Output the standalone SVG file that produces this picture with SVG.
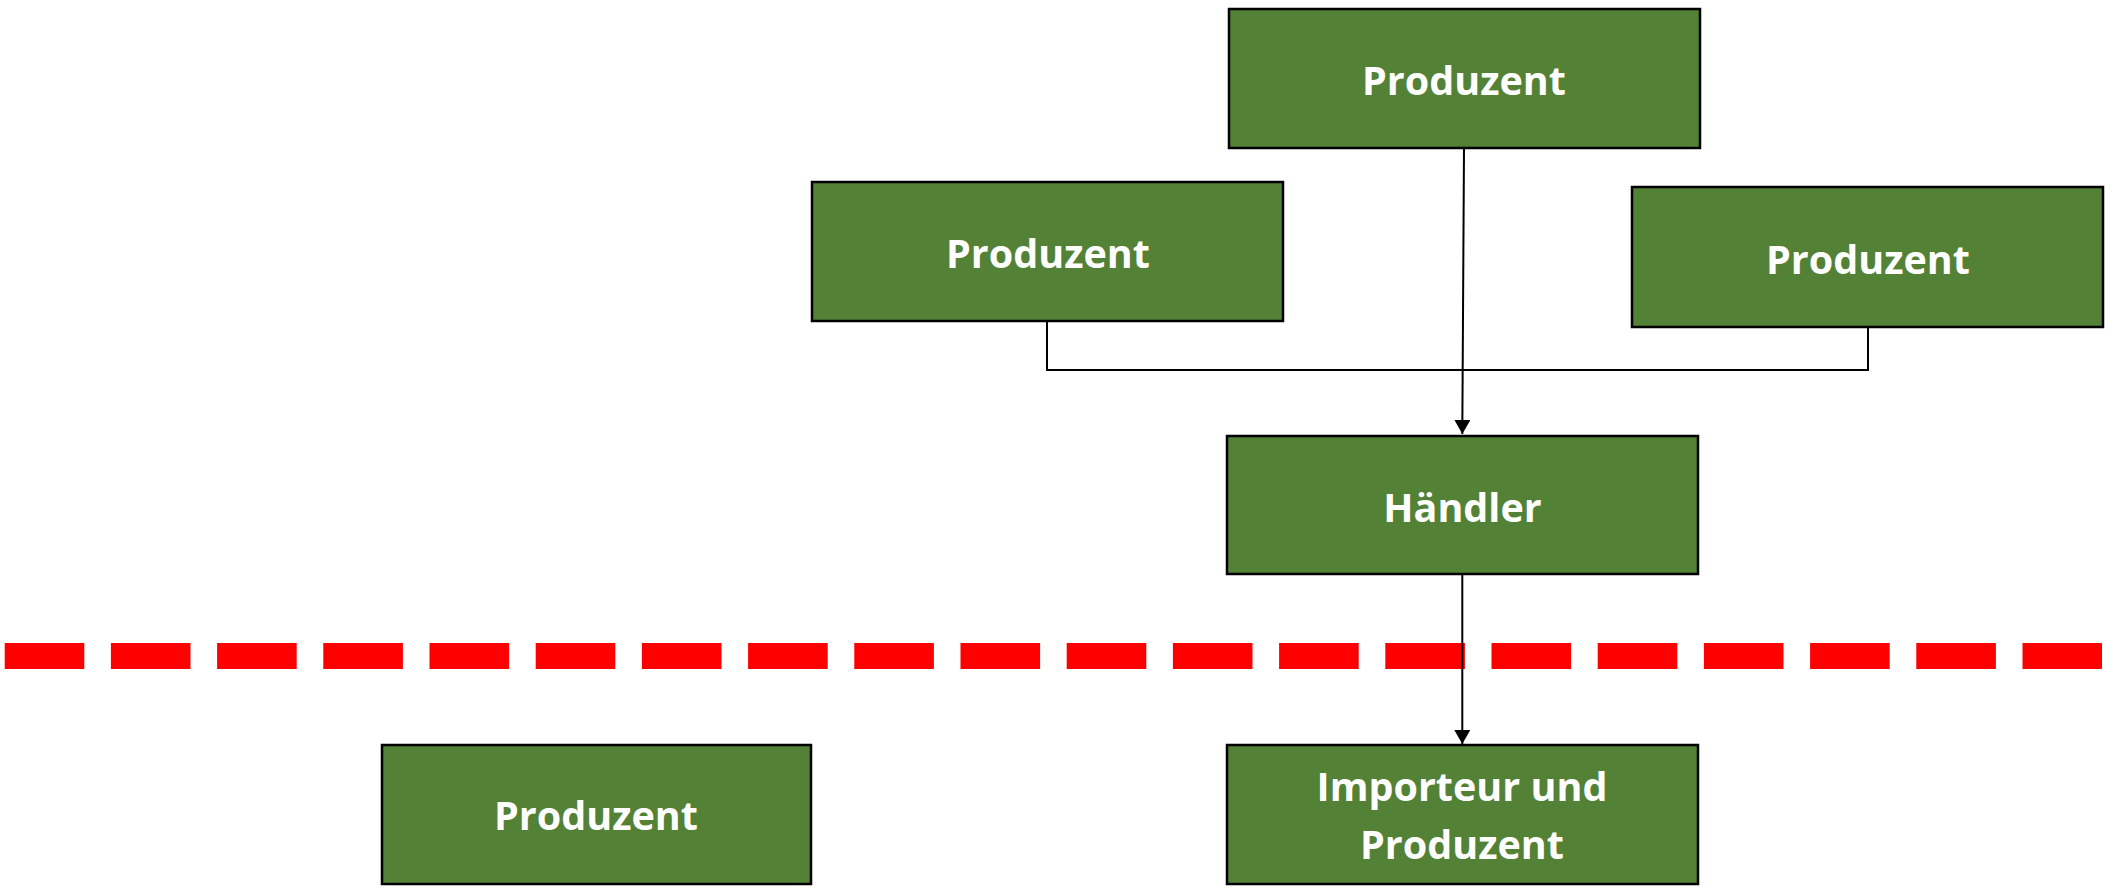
<svg xmlns="http://www.w3.org/2000/svg" width="2126" height="894" viewBox="0 0 2126 894">
<style>
.box{fill:#538135;stroke:#000;stroke-width:2.5}
.lbl{font-family:"Open Sans","Noto Sans",sans-serif;font-weight:bold;font-size:39.5px;fill:#fff;text-anchor:middle}
.con{fill:none;stroke:#000;stroke-width:2}
</style>
<defs>
<marker id="arr" markerWidth="16" markerHeight="16" refX="14" refY="8" orient="auto" markerUnits="userSpaceOnUse">
<path d="M0,0 L14,8 L0,16 Z" fill="#000"/>
</marker>
</defs>
<rect width="2126" height="894" fill="#fff"/>
<line x1="4.7" y1="656" x2="2102" y2="656" stroke="#ff0000" stroke-width="26" stroke-dasharray="79.6 26.6"/>
<g id="connectors">
<polyline class="con" points="1047,321 1047,370 1868,370 1868,327"/>
<line class="con" x1="1464" y1="148" x2="1462.3" y2="434" marker-end="url(#arr)"/>
<line class="con" x1="1462.3" y1="574" x2="1462.3" y2="744" marker-end="url(#arr)"/>
</g>
<g id="p-top">
<rect class="box" x="1229" y="9" width="471" height="139"/>
<text class="lbl" x="1464" y="95">Produzent</text>
</g>
<g id="p-left">
<rect class="box" x="812" y="182" width="471" height="139"/>
<text class="lbl" x="1048" y="268">Produzent</text>
</g>
<g id="p-right">
<rect class="box" x="1632" y="187" width="471" height="140"/>
<text class="lbl" x="1868" y="274">Produzent</text>
</g>
<g id="haendler">
<rect class="box" x="1227" y="436" width="471" height="138"/>
<text class="lbl" x="1462.5" y="522">Händler</text>
</g>
<g id="p-bottom">
<rect class="box" x="382" y="745" width="429" height="139"/>
<text class="lbl" x="596" y="830">Produzent</text>
</g>
<g id="importeur">
<rect class="box" x="1227" y="745" width="471" height="139"/>
<text class="lbl" x="1462" y="801">Importeur und</text>
<text class="lbl" x="1462" y="859">Produzent</text>
</g>
</svg>
